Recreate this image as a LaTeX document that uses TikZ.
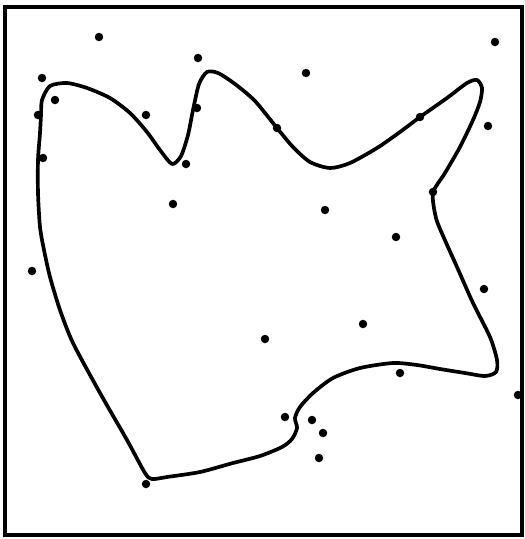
\documentclass[tikz,border=0pt]{standalone}
\begin{document}
\begin{tikzpicture}[
    x=0.02cm, y=-0.02cm,
    site/.style={circle,fill=black,inner sep=0pt,minimum size=0.17cm},
    frame/.style={draw=black,line width=2pt},
    contour/.style={draw=black,line width=2.1pt,line join=round}
]
    \useasboundingbox (0,0) rectangle (525,539);
    \draw[frame] (5,7) rectangle (522,535);

    % the closed contour
    \draw[contour] plot[smooth cycle,tension=0.45] coordinates {
        (42,100) (50,86) (67,83) (87,88) (110,98) (130,113) (147,132)
        (160,150) (172,164) (181,156) (188,135) (193,110) (199,84)
        (207,72) (218,73) (235,84) (255,101) (277,128) (293,147)
        (310,162) (330,168) (350,163) (377,148) (400,132) (420,117)
        (447,98) (467,83) (477,80) (482,88) (480,102) (473,120)
        (460,147) (445,173) (433,193) (436,218) (444,238) (457,267)
        (473,303) (490,337) (497,360) (496,372) (485,376) (465,373)
        (440,369) (417,365) (393,363) (360,368) (333,378) (313,393)
        (300,407) (295,418) (297,428) (292,439) (282,447) (260,456)
        (233,463) (200,472) (167,477) (152,479) (145,473) (127,440)
        (100,393) (73,343) (60,310) (50,277) (44,250) (40,227)
        (38,193) (38,160) (40,133) (41,115)};

    % sample points
    \node[site] (p1) at (99,37) {};
    \node[site] (p2) at (198,58) {};
    \node[site] (p3) at (42,78) {};
    \node[site] (p4) at (306,73) {};
    \node[site] (p5) at (495,42) {};
    \node[site] (p6) at (55,100) {};
    \node[site] (p7) at (38,115) {};
    \node[site] (p8) at (146,115) {};
    \node[site] (p9) at (197,108) {};
    \node[site] (p10) at (277,128) {};
    \node[site] (p11) at (420,117) {};
    \node[site] (p12) at (488,126) {};
    \node[site] (p13) at (43,158) {};
    \node[site] (p14) at (186,164) {};
    \node[site] (p15) at (173,204) {};
    \node[site] (p16) at (433,192) {};
    \node[site] (p17) at (325,210) {};
    \node[site] (p18) at (396,237) {};
    \node[site] (p19) at (32,271) {};
    \node[site] (p20) at (484,289) {};
    \node[site] (p21) at (363,324) {};
    \node[site] (p22) at (265,339) {};
    \node[site] (p23) at (400,373) {};
    \node[site] (p24) at (518,395) {};
    \node[site] (p25) at (285,417) {};
    \node[site] (p26) at (312,420) {};
    \node[site] (p27) at (323,433) {};
    \node[site] (p28) at (319,458) {};
    \node[site] (p29) at (146,484) {};
\end{tikzpicture}
\end{document}
